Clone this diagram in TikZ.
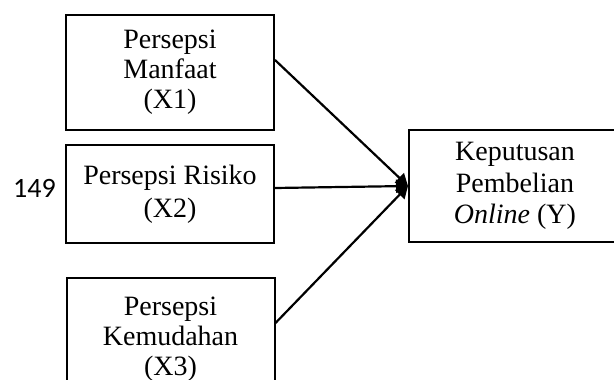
\documentclass[tikz,border=0pt]{standalone}
\usepackage{fontspec}
\setmainfont{Liberation Serif}
\newfontfamily\pagefont{Carlito}
\usetikzlibrary{arrows.meta}
\begin{document}
\begin{tikzpicture}[x=1pt,y=-1pt,>={Triangle[length=12pt,width=13pt]}]
    % Define basic node style
    \tikzset{
        varbox/.style={
            rectangle,
            draw,
            line width=2pt,
            minimum width=208pt,
            inner sep=0pt,
            align=center,
            font=\fontsize{28}{30}\selectfont
        },
        link/.style={->, line width=2.2pt}
    }
    \clip (0,0) rectangle (614,380);

    % Independent variables
    \node[varbox, minimum height=115pt] (manfaat) at (170,72.5) {Persepsi\\Manfaat\\(X1)};
    \node[varbox, minimum height=98pt] (risiko) at (170,194) {Persepsi Risiko\\[3pt](X2)};
    \node[varbox, minimum height=122pt, anchor=north] (kemudahan) at (170.5,277) {Persepsi\\Kemudahan\\(X3)};

    % Dependent variable
    \node[varbox, minimum width=212pt, minimum height=112pt, font=\fontsize{28}{31.5}\selectfont] (keputusan) at (515,186) {Keputusan\\Pembelian\\\textit{Online} (Y)};

    % Page number
    \node[inner sep=0pt, anchor=base west, font=\pagefont\fontsize{28}{30}\selectfont] (halaman) at (13,197) {149};

    % Connections
    \draw[link] ([yshift=12.5pt]manfaat.east) -- (keputusan.west);
    \draw[link] ([yshift=6pt]risiko.east) -- (keputusan.west);
    \draw[link] ([yshift=16pt]kemudahan.east) -- (keputusan.west);
\end{tikzpicture}
\end{document}
